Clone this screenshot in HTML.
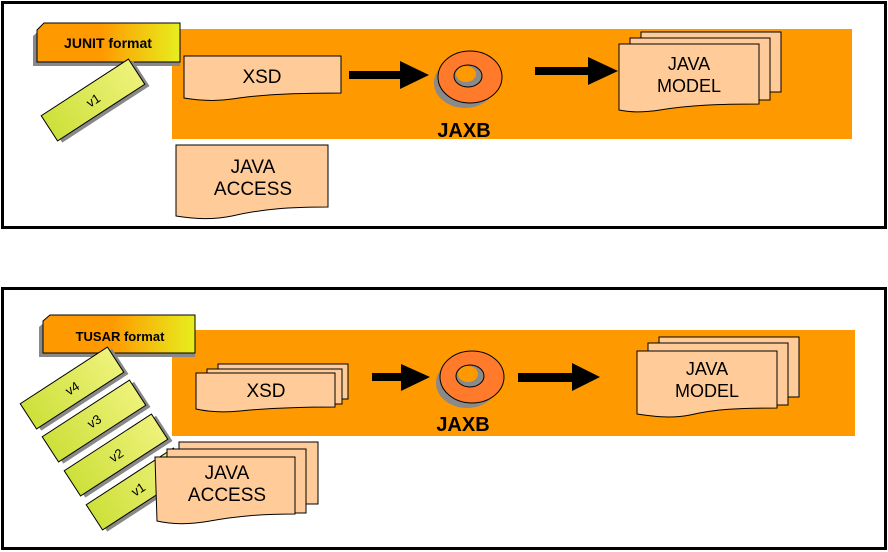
<!DOCTYPE html>
<html><head><meta charset="utf-8"><style>html,body{margin:0;padding:0;background:#fff}svg{display:block}</style></head><body>
<svg width="888" height="552" viewBox="0 0 888 552" xmlns="http://www.w3.org/2000/svg" font-family="Liberation Sans, Arial, sans-serif">
<defs>
<linearGradient id="tag" x1="0" y1="0" x2="1" y2="0"><stop offset="0.45" stop-color="#ff9900"/><stop offset="1" stop-color="#e6ef1e"/></linearGradient>
<linearGradient id="bar" x1="0" y1="0" x2="1" y2="0"><stop offset="0" stop-color="#cde03a"/><stop offset="1" stop-color="#eef27a"/></linearGradient>
<g id="bar1">
<rect x="-49" y="-11" width="104" height="30" fill="#888"/>
<rect x="-52" y="-15" width="104" height="30" fill="url(#bar)" stroke="#000" stroke-width="1"/>
</g>
<g id="ring">
<ellipse cx="-5" cy="6" rx="31" ry="25" fill="#8a8a8a"/>
<ellipse cx="0" cy="0" rx="32" ry="26" fill="#ff7a2a" stroke="#000" stroke-width="1"/>
<ellipse cx="-2" cy="-1" rx="14" ry="11" fill="#8a8a8a" stroke="#000" stroke-width="1"/>
<ellipse cx="-4" cy="-3" rx="10" ry="8" fill="#ff9900"/>
</g>
</defs>
<rect x="2.5" y="2.5" width="883" height="225" fill="#fff" stroke="#000" stroke-width="3"/>
<rect x="2.5" y="288.5" width="883" height="260" fill="#fff" stroke="#000" stroke-width="3"/>

<!-- TOP -->
<rect x="172" y="29" width="680" height="110" fill="#ff9900"/>
<polygon points="33,36 40,30 60,30 60,27 180,27 180,66 33,66" fill="#888"/>
<polygon points="37,30 44,23 180,23 180,62 37,62" fill="url(#tag)" stroke="#000" stroke-width="1"/>
<text x="108" y="48" font-size="14" font-weight="bold" text-anchor="middle">JUNIT  format</text>
<g transform="translate(93,100) rotate(-33)"><use href="#bar1"/><text x="0" y="5" font-size="13" text-anchor="middle">v1</text></g>

<path d="M184,56 H341 V93 C300,93 262,94 232,99 C212,102 196,100 184,98 Z" fill="#ffcc99" stroke="#000" stroke-width="1"/>
<text x="262" y="83" font-size="19" text-anchor="middle">XSD</text>
<rect x="349" y="71" width="54" height="8" fill="#000"/><polygon points="400,61 429,75 400,89" fill="#000"/>
<g transform="translate(470,77)"><use href="#ring"/></g>
<text x="464" y="137" font-size="20" font-weight="bold" text-anchor="middle">JAXB</text>
<rect x="535" y="67" width="56" height="8" fill="#000"/><polygon points="588,57 618,71 588,85" fill="#000"/>

<rect x="641" y="32" width="140" height="60" fill="#ffcc99" stroke="#000" stroke-width="1"/>
<rect x="630" y="38" width="140" height="62" fill="#ffcc99" stroke="#000" stroke-width="1"/>
<path d="M619,44 H759 V104 C720,104 690,105 660,110 C640,113 630,112 619,110 Z" fill="#ffcc99" stroke="#000" stroke-width="1"/>
<text x="689" y="70" font-size="18" text-anchor="middle">JAVA</text>
<text x="689" y="92" font-size="18" text-anchor="middle">MODEL</text>

<path d="M176,145 H328 V207 C290,207 262,209 232,216 C212,220 195,219 176,216 Z" fill="#ffcc99" stroke="#000" stroke-width="1"/>
<text x="253" y="173" font-size="19" text-anchor="middle">JAVA</text>
<text x="253" y="195" font-size="19" text-anchor="middle">ACCESS</text>

<!-- BOTTOM -->
<rect x="172" y="330" width="683" height="106" fill="#ff9900"/>
<polygon points="39,327 46,321 195,321 195,357 39,357" fill="#888"/>
<polygon points="43,321 50,315 195,315 195,353 43,353" fill="url(#tag)" stroke="#000" stroke-width="1"/>
<text x="120" y="341" font-size="13" font-weight="bold" text-anchor="middle">TUSAR format</text>

<g transform="translate(72,388) rotate(-33)"><use href="#bar1"/><text x="0" y="5" font-size="13" text-anchor="middle">v4</text></g>
<g transform="translate(94,421) rotate(-33)"><use href="#bar1"/><text x="0" y="5" font-size="13" text-anchor="middle">v3</text></g>
<g transform="translate(116,455) rotate(-33)"><use href="#bar1"/><text x="0" y="5" font-size="13" text-anchor="middle">v2</text></g>
<g transform="translate(138,489) rotate(-33)"><use href="#bar1"/><text x="0" y="5" font-size="13" text-anchor="middle">v1</text></g>

<rect x="218" y="364" width="130" height="35" fill="#ffcc99" stroke="#000" stroke-width="1"/>
<rect x="207" y="369" width="135" height="35" fill="#ffcc99" stroke="#000" stroke-width="1"/>
<path d="M196,373 H335 V407 C300,407 270,408 240,411 C220,413 205,411 196,409 Z" fill="#ffcc99" stroke="#000" stroke-width="1"/>
<text x="266" y="397" font-size="19" text-anchor="middle">XSD</text>
<rect x="372" y="373" width="32" height="8" fill="#000"/><polygon points="401,364 430,377 401,391" fill="#000"/>
<g transform="translate(472,377)"><use href="#ring"/></g>
<text x="463" y="431" font-size="20" font-weight="bold" text-anchor="middle">JAXB</text>
<rect x="518" y="373" width="56" height="9" fill="#000"/><polygon points="572,363 600,377 572,391" fill="#000"/>

<rect x="659" y="337" width="140" height="60" fill="#ffcc99" stroke="#000" stroke-width="1"/>
<rect x="648" y="343" width="140" height="62" fill="#ffcc99" stroke="#000" stroke-width="1"/>
<path d="M637,351 H777 V408 C740,408 715,409 690,415 C670,419 650,416 637,414 Z" fill="#ffcc99" stroke="#000" stroke-width="1"/>
<text x="707" y="375" font-size="18" text-anchor="middle">JAVA</text>
<text x="707" y="397" font-size="18" text-anchor="middle">MODEL</text>

<rect x="179" y="442" width="139" height="62" fill="#ffcc99" stroke="#000" stroke-width="1"/>
<rect x="167" y="449" width="139" height="64" fill="#ffcc99" stroke="#000" stroke-width="1"/>
<path d="M155,457 H295 V514 C262,514 238,516 210,521 C188,525 170,524 157,521 Z" fill="#ffcc99" stroke="#000" stroke-width="1"/>
<text x="227" y="479" font-size="19" text-anchor="middle">JAVA</text>
<text x="227" y="501" font-size="19" text-anchor="middle">ACCESS</text>
</svg>
</body></html>
